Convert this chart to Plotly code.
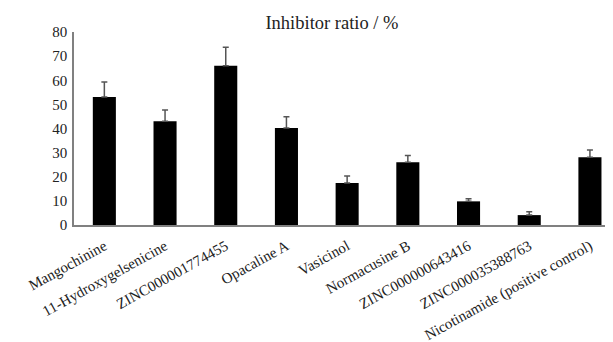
import plotly.graph_objects as go

categories = ["Mangochinine", "11-Hydroxygelsenicine", "ZINC000001774455", "Opacaline A",
              "Vasicinol", "Normacusine B", "ZINC000000643416", "ZINC000035388763",
              "Nicotinamide (positive control)"]
values = [53.1, 43.0, 66.0, 40.2, 17.4, 26.0, 9.8, 4.1, 28.1]
errors = [6.2, 4.7, 7.7, 4.7, 2.9, 2.8, 1.1, 1.4, 3.0]
y_ticks = [0, 10, 20, 30, 40, 50, 60, 70, 80]

font_family = "Liberation Serif, Times New Roman, serif"

# the page body has an 8px default margin, so the figure is sized to fit the window
W, H = 605, 334

fig = go.Figure(go.Bar(
    x=list(range(len(categories))),
    y=values,
    width=0.38,
    marker=dict(color="black", line=dict(width=0)),
    error_y=dict(type="data", array=errors, arrayminus=[0] * len(errors), symmetric=False,
                 color="#555555", thickness=1.5, width=3),
))

fig.update_layout(
    width=W, height=H,
    margin=dict(l=66, r=0, t=24, b=117),
    paper_bgcolor="white", plot_bgcolor="white",
    showlegend=False,
    font=dict(family=font_family, color="#222222"),
    title=dict(text="Inhibitor ratio / %", x=324 / W, xanchor="center", y=1 - 15 / H,
               yanchor="middle", font=dict(family=font_family, size=18.5, color="#222222")),
    xaxis=dict(
        tickmode="array", tickvals=list(range(len(categories))), ticktext=categories,
        tickangle=-29, range=[-0.5, 8.38], showline=True, linecolor="#808080", linewidth=1.5,
        ticks="", showgrid=False, zeroline=False, automargin=False, ticklabelstandoff=5,
        tickfont=dict(family=font_family, size=15, color="#222222"),
    ),
    yaxis=dict(
        range=[0, 80], tickvals=y_ticks, showline=True, linecolor="#808080", linewidth=1.5,
        ticks="", showgrid=False, zeroline=False, automargin=False, ticklabelstandoff=2,
        tickfont=dict(family=font_family, size=15, color="#222222"),
    ),
)

fig.write_html("out.html")
